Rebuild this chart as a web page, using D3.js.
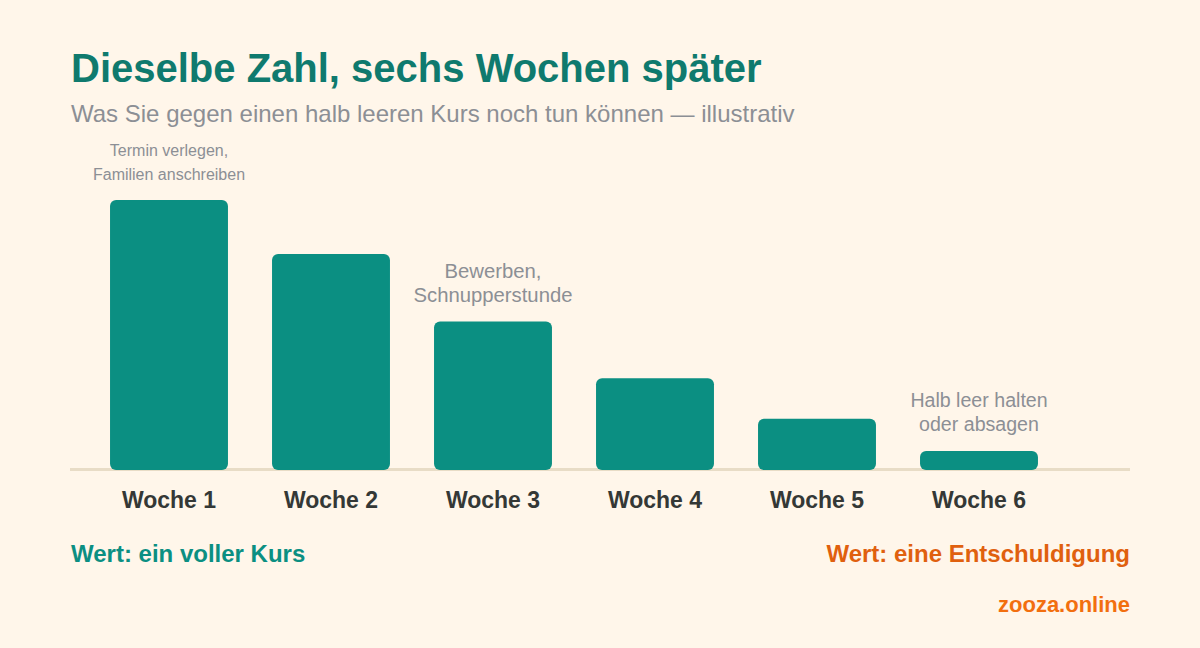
<!DOCTYPE html>
<html>
<head>
<meta charset="utf-8">
<script src="https://cdn.jsdelivr.net/npm/d3@7"></script>
<style>
  body { margin: 0; background: #fff6ea; }
  svg { display: block; font-family: "Liberation Sans", Arial, Helvetica, sans-serif; }
</style>
</head>
<body>
<svg id="chart"></svg>
<script>
// data (illustrative, first week = 100)
const weeks = ['Woche 1', 'Woche 2', 'Woche 3', 'Woche 4', 'Woche 5', 'Woche 6']
const seatValue = [100, 80, 55, 34, 19, 7]
const noteWeeks = ['Woche 1', 'Woche 3', 'Woche 6']
const noteLines = [
    ['Termin verlegen,', 'Familien anschreiben'],
    ['Bewerben,', 'Schnupperstunde'],
    ['Halb leer halten', 'oder absagen']
]

const width = 1200
const height = 648

let svg = d3.select('#chart')
    .attr('width', width)
    .attr('height', height)
    .style('background', '#fff6ea')

let x = d3.scaleBand()
    .domain(weeks)
    .range([88, 1060])
    .paddingInner(0.272)
    .paddingOuter(0.136)

let y = d3.scaleLinear()
    .domain([0, 100])
    .range([470, 200])

// title block
svg.append('text')
    .attr('x', 71)
    .attr('y', 82)
    .attr('fill', '#0f7a6e')
    .attr('font-size', 40)
    .attr('font-weight', 'bold')
    .text('Dieselbe Zahl, sechs Wochen später')

svg.append('text')
    .attr('x', 71)
    .attr('y', 121.5)
    .attr('fill', '#8c8f95')
    .attr('font-size', 24)
    .text('Was Sie gegen einen halb leeren Kurs noch tun können — illustrativ')

// baseline
svg.append('line')
    .attr('x1', 70)
    .attr('x2', 1130)
    .attr('y1', y(0) - 0.5)
    .attr('y2', y(0) - 0.5)
    .attr('stroke', '#e8dcc6')
    .attr('stroke-width', 3)

// bars
svg.selectAll('rect.bar')
    .data(seatValue)
    .enter()
    .append('rect')
    .attr('class', 'bar')
    .attr('x', (d, i) => x(weeks[i]))
    .attr('y', d => y(d))
    .attr('width', x.bandwidth())
    .attr('height', d => y(0) - y(d))
    .attr('rx', 6)
    .attr('fill', '#0b8f82')

// week labels
let axis = d3.axisBottom(x).tickSize(0).tickPadding(0)
let axisG = svg.append('g')
    .attr('transform', 'translate(0,' + (y(0) + 21) + ')')
    .call(axis)
axisG.select('.domain').remove()
axisG.selectAll('text')
    .attr('dy', null)
    .attr('y', 16.5)
    .attr('fill', '#343836')
    .attr('font-size', 23)
    .attr('font-weight', 'bold')
    .attr('font-family', null)

// notes above the bars
let noteSize = [16, 20.3, 19.6]
noteWeeks.forEach((wk, i) => {
    let val = seatValue[weeks.indexOf(wk)]
    let lines = noteLines[i]
    let t = svg.append('text')
        .attr('text-anchor', 'middle')
        .attr('fill', '#8c8f95')
        .attr('font-size', noteSize[i])
    lines.forEach((line, j) => {
        t.append('tspan')
            .attr('x', x(wk) + x.bandwidth() / 2)
            .attr('y', y(val) - 20 - (lines.length - 1 - j) * 24)
            .text(line)
    })
})

// footer
svg.append('text')
    .attr('x', 71)
    .attr('y', 562)
    .attr('fill', '#0b8f82')
    .attr('font-size', 24)
    .attr('font-weight', 'bold')
    .text('Wert: ein voller Kurs')

svg.append('text')
    .attr('x', 1130)
    .attr('y', 562)
    .attr('text-anchor', 'end')
    .attr('fill', '#e0600e')
    .attr('font-size', 24)
    .attr('font-weight', 'bold')
    .text('Wert: eine Entschuldigung')

svg.append('text')
    .attr('x', 1130)
    .attr('y', 611.5)
    .attr('text-anchor', 'end')
    .attr('fill', '#f26f0f')
    .attr('font-size', 22)
    .attr('font-weight', 'bold')
    .text('zooza.online')
</script>
</body>
</html>
